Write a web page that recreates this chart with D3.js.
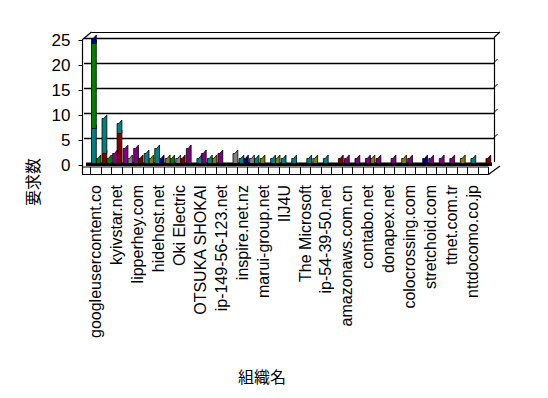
<!DOCTYPE html>
<html>
<head>
<meta charset="utf-8">
<script src="https://cdn.jsdelivr.net/npm/d3@7"></script>
<style>
  body { margin: 0; background: #fff; }
  text { font-family: "Liberation Sans", Arial, sans-serif; }
</style>
</head>
<body>
<div id="chart"></div>
<script>
"use strict";

// 38 organisations, only every other name is printed on the axis
var categories = [
  "googleusercontent.co", "", "kyivstar.net", "", "lipperhey.com", "", "hidehost.net", "",
  "Oki Electric", "", "OTSUKA SHOKAI", "", "ip-149-56-123.net", "", "inspire.net.nz", "",
  "marui-group.net", "", "IIJ4U", "", "The Microsoft", "", "ip-54-39-50.net", "",
  "amazonaws.com.cn", "", "contabo.net", "", "donapex.net", "", "colocrossing.com", "",
  "stretchoid.com", "", "ttnet.com.tr", "", "nttdocomo.co.jp", ""
];

var yTicks = [0, 5, 10, 15, 20, 25];
var seriesColors = ["#800000", "#008080", "#008000", "#000080", "#800080", "#808080", "#808000"];

// front row of columns
var aDarkRed = [0,2,0,0,0,0,0,0,0,0,0,0,0,0,0,0,0,0,0,0,0,0,0,0,0,0,0,0,0,0,0,0,0,0,0,0,0,0];
var aTeal    = [7,7,0,0,0,2,3,0,0,0,1,1,0,0,1,0,0,1,1,1,0,0,1,0,0,0,0,0,0,0,0,0,0,0,0,0,1,0];
var aGreen   = [17,0,0,0,0,0,0,0,0,0,0,0,0,0,0,0,0,0,0,0,0,0,0,0,0,0,0,0,0,0,0,0,0,0,0,0,0,0];
var aNavy    = [1,0,0,0,0,0,0,0,0,0,0,0,0,0,0,0,0,0,0,0,0,0,0,0,0,0,0,0,0,0,0,0,0,0,0,0,0,0];
var aPurple  = [0,0,2,3,3,0,0,0,0,3,0,0,2,0,0,0,0,0,0,0,0,0,0,0,1,1,1,1,0,0,1,0,1,1,1,0,0,0];
var aGray    = [0,0,0,0,0,0,0,0,1,0,0,0,0,0,0,1,0,0,0,0,0,0,0,0,0,0,0,0,0,0,0,0,0,0,0,0,0,0];
var aOlive   = [0,0,0,0,0,0,0,1,0,0,0,0,0,0,0,0,1,0,0,0,0,1,0,0,0,0,0,0,0,0,0,0,0,0,0,1,0,0];

// back row of columns
var bDarkRed = [0,0,6,0,1,0,0,0,1,0,0,0,0,0,0,0,0,0,0,0,0,0,0,1,0,0,0,0,0,0,0,0,0,0,0,0,0,1];
var bTeal    = [0,0,2,0,0,0,0,0,0,0,0,0,0,0,0,1,0,0,0,0,1,0,0,0,0,0,0,0,0,0,0,0,0,0,0,0,0,0];
var bGreen   = [1,1,0,0,0,0,0,1,0,0,0,0,0,0,0,0,0,0,0,0,0,0,0,0,0,0,0,0,0,0,0,0,0,0,0,0,0,0];
var bNavy    = [0,0,0,0,0,0,1,0,0,0,0,0,0,0,1,0,0,0,0,0,0,0,0,0,0,0,0,0,0,0,0,1,0,0,0,0,0,0];
var bPurple  = [0,0,0,0,0,0,0,0,0,0,2,0,0,0,0,0,0,0,0,0,0,0,0,0,0,0,0,0,1,0,0,0,0,0,0,0,0,0];
var bGray    = [0,0,0,1,0,0,0,0,0,0,0,0,0,2,0,0,0,0,0,0,0,0,0,0,0,0,0,0,0,0,0,0,0,0,0,0,0,0];
var bOlive   = [0,0,0,0,0,1,0,0,0,0,0,1,0,0,0,0,0,1,0,0,0,0,0,0,0,0,1,0,0,1,0,0,0,0,0,0,0,0];

var rowA = [aDarkRed, aTeal, aGreen, aNavy, aPurple, aGray, aOlive];
var rowB = [bDarkRed, bTeal, bGreen, bNavy, bPurple, bGray, bOlive];

function drawChart()
{
    var w = 548;
    var h = 398;

    var svg = d3.select("#chart")
                .append("svg")
                .attr("width", w)
                .attr("height", h);

    svg.append("rect").attr("width", w).attr("height", h).attr("fill", "#fff");

    var y = d3.scaleLinear().domain([0, 25]).range([165, 40]);
    var idx = d3.range(categories.length);
    var xFront = d3.scaleBand().domain(idx).range([90.2, 488.4]);   // floor front edge
    var xBar = d3.scaleBand().domain(idx).range([91.5, 492]);       // where columns stand

    // back wall gridlines
    svg.selectAll("line.grid")
        .data(yTicks.filter(function(d) { return d > 0; }))
        .enter().append("line")
        .attr("class", "grid")
        .attr("x1", 84).attr("x2", 494)
        .attr("y1", function(d) { return Math.round(y(d) - 2.5) + 0.5; })
        .attr("y2", function(d) { return Math.round(y(d) - 2.5) + 0.5; })
        .attr("stroke", "#000").attr("stroke-width", 1.3);

    // little diagonal stubs on the right wall edge
    svg.selectAll("line.stub")
        .data(yTicks.filter(function(d) { return d > 0 && d < 25; }))
        .enter().append("line")
        .attr("x1", 494).attr("x2", 497.5)
        .attr("y1", function(d) { return y(d) - 2.5; })
        .attr("y2", function(d) { return y(d) - 6; })
        .attr("stroke", "#000").attr("stroke-width", 1);

    var frame = [
        [82, y(25), 91.5, 32],
        [91.5, 32.5, 500, 32.5],
        [494, y(25) - 2.5, 500, 32],
        [494.5, y(25) - 2.5, 494.5, 162],
        [82.5, y(25), 82.5, 174.5],
        [488.4, 174.5, 500, 166]
    ];
    svg.selectAll("line.frame")
        .data(frame)
        .enter().append("line")
        .attr("x1", function(d) { return d[0]; })
        .attr("y1", function(d) { return d[1]; })
        .attr("x2", function(d) { return d[2]; })
        .attr("y2", function(d) { return d[3]; })
        .attr("stroke", "#000").attr("stroke-width", 1.2);

    // floor
    svg.append("rect")
        .attr("x", 86).attr("y", 162.5)
        .attr("width", 406).attr("height", 3.5)
        .attr("fill", "#000");
    svg.append("line").attr("x1", 82).attr("x2", 488.4).attr("y1", 167).attr("y2", 167)
        .attr("stroke", "#000");
    svg.append("line").attr("x1", 82).attr("x2", 488.4).attr("y1", 174.5).attr("y2", 174.5)
        .attr("stroke", "#000");
    svg.selectAll("line.div")
        .data(idx.concat([categories.length]))
        .enter().append("line")
        .attr("x1", function(d) { return Math.round(xFront(0) + d * xFront.step()) + 0.5; })
        .attr("x2", function(d) { return Math.round(xFront(0) + d * xFront.step()) + 0.5; })
        .attr("y1", 167).attr("y2", 174.5)
        .attr("stroke", "#000");

    // y axis
    var yAxis = d3.axisLeft(y).tickValues(yTicks).tickSize(4).tickPadding(8);
    var gy = svg.append("g").attr("transform", "translate(82.5,0)").call(yAxis);
    gy.select(".domain").remove();
    gy.selectAll("text")
        .style("font-family", "'Liberation Sans', Arial, sans-serif")
        .style("font-size", "17px")
        .attr("fill", "#000");

    // 3d columns: thin front face + slanted side face
    var wf = 1.8, ws = 3, dz = 3.5;
    function colPath(x, y0, y1) {
        return "M" + x + "," + y0 + "L" + x + "," + y1 + "L" + (x + wf) + "," + y1 +
               "L" + (x + wf + ws) + "," + (y1 - dz) + "L" + (x + wf + ws) + "," + y0 +
               "Z";
    }

    function drawRow(row, offset) {
        var segs = [];
        idx.forEach(function(c) {
            var base = 0;
            row.forEach(function(values, s) {
                if (values[c] > 0) {
                    segs.push({c: c, s: s, y0: base, y1: base + values[c]});
                    base += values[c];
                }
            });
        });
        svg.append("g").selectAll("path")
            .data(segs)
            .enter().append("path")
            .attr("d", function(d) {
                return colPath(xBar(d.c) + offset, y(d.y0) - 1.5, y(d.y1) - 1.5);
            })
            .attr("fill", function(d) { return seriesColors[d.s]; })
            .attr("stroke", "#000")
            .attr("stroke-width", 0.8)
            .attr("stroke-linejoin", "round");
    }
    drawRow(rowB, 4.5);
    drawRow(rowA, 0);

    // category labels
    svg.selectAll("text.cat")
        .data(idx.filter(function(i) { return categories[i] !== ""; }))
        .enter().append("text")
        .attr("class", "cat")
        .attr("transform", function(i) {
            return "translate(" + (xFront(i) + xFront.bandwidth() / 2 + 5.5) + ",185) rotate(-90)";
        })
        .attr("text-anchor", "end")
        .style("font-size", "16px")
        .attr("fill", "#000")
        .text(function(i) { return categories[i]; });

    // axis titles
    svg.append("text")
        .attr("transform", "translate(39,182) rotate(-90)")
        .attr("text-anchor", "middle")
        .style("font-family", "'Noto Sans CJK JP', sans-serif")
        .style("font-size", "16px")
        .text("要求数");

    svg.append("text")
        .attr("x", 262).attr("y", 383)
        .attr("text-anchor", "middle")
        .style("font-family", "'Noto Sans CJK JP', sans-serif")
        .style("font-size", "16px")
        .text("組織名");
}

window.addEventListener('load', function (){
    drawChart();
});
</script>
</body>
</html>
